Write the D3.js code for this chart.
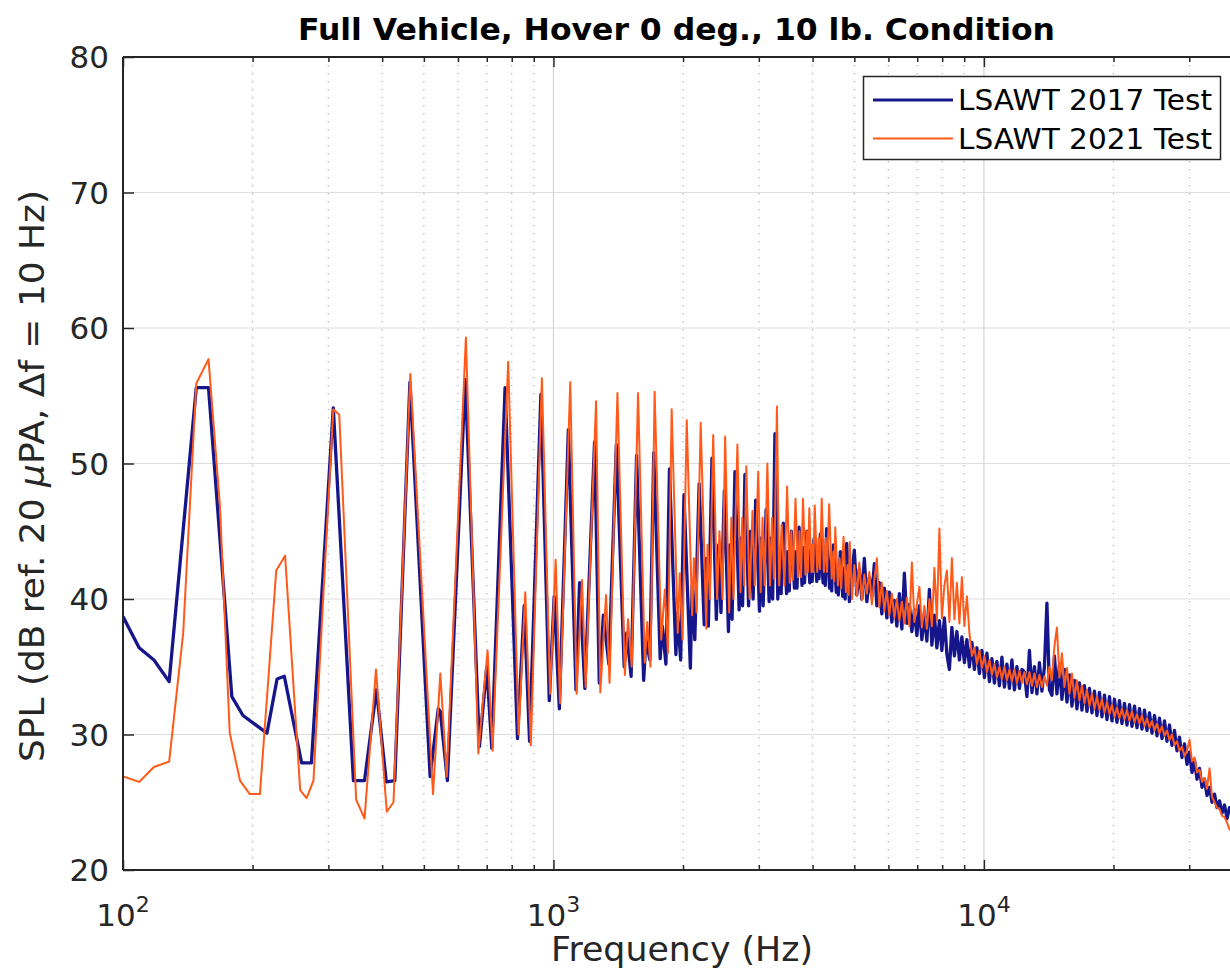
<!DOCTYPE html>
<html><head><meta charset="utf-8">
<script src="https://cdn.jsdelivr.net/npm/d3@7"></script>
<style>
body{margin:0;background:#fff}
svg{display:block}
text{font-family:"DejaVu Sans",sans-serif;fill:#262626}
</style>
</head><body>
<svg id="chart" width="1230" height="973"></svg>
<script>
// ---------- DATA ----------
const chartTitle = "Full Vehicle, Hover 0 deg., 10 lb. Condition";
const seriesNames = ["LSAWT 2017 Test", "LSAWT 2021 Test"];
const xTickExponents = [2, 3, 4];
const yTicks = [20, 30, 40, 50, 60, 70, 80];

// 2017 test: [frequency Hz, SPL dB]
const blueLow = [[100,38.7],[109,36.4],[118,35.5],[128,33.9],[148,55.6],[158,55.6],[179,32.8],[190,31.4],[216,30.1],[228,34.1],[237,34.3],[260,27.9],[274,27.9],[308,54.1],[343,26.6],[364,26.6],[388,33.3],[409,26.5],[428,26.6],[464,56.0],[517,26.9],[540,31.9],[546,31.7],[567,26.6],[624,56.2],[673,29.1],[700,35.0],[719,29.0],[772,55.6],[825,29.7],[855,39.5],[880,29.5]];
const blueHarm = [[935,55.1],[978,32.5],[1004,40.2],[1032,31.9],[1083,52.5],[1128,33.3],[1150,41.2],[1183,33.4],[1246,51.6],[1278,33.8],[1306,38.8],[1345,35.2],[1400,51.4],[1460,35.0],[1480,37.5],[1515,34.3],[1560,50.6],[1620,34.0],[1640,37.0],[1675,35.5],[1710,50.8],[1770,35.6],[1790,38.0],[1825,35.2],[1860,49.6],[1925,35.9],[1940,39.0],[1975,35.5],[2010,47.7],[2080,34.9],[2100,41.0],[2130,37.0],[2180,48.5],[2240,38.1],[2260,43.0],[2290,38.0],[2335,50.4],[2390,38.5],[2420,44.0],[2450,39.0],[2495,48.0],[2550,37.6],[2570,44.0],[2600,38.5],[2640,49.4],[2700,39.2],[2720,44.5],[2750,39.5],[2785,49.2],[2840,39.5],[2870,45.0],[2910,40.0],[2950,47.3],[3010,39.1],[3030,44.5],[3070,39.5],[3120,46.6],[3170,39.8],[3190,44.5],[3230,40.0],[3270,52.2],[3320,40.0],[3350,43.5],[3380,40.4],[3420,45.6],[3480,40.4],[3500,43.5],[3530,40.6],[3570,45.0],[3630,40.8],[3650,43.5],[3680,40.8],[3720,45.3],[3780,41.0],[3800,43.8],[3830,41.2],[3880,45.0],[3940,41.2],[3960,43.5],[3990,41.3],[4030,44.4],[4090,41.3],[4110,43.5],[4140,41.5],[4170,44.8],[4230,41.2],[4250,43.0],[4280,41.0],[4310,45.2],[4380,40.8],[4400,42.8],[4430,40.6],[4470,44.0],[4540,40.5],[4560,42.5],[4590,40.3],[4640,43.5],[4700,40.2],[4730,42.3],[4760,40.0],[4800,44.1],[4870,39.8]];

// 2021 test: [frequency Hz, SPL dB]
const orangeLow = [[100,26.9],[109,26.5],[118,27.6],[128,28.0],[138,37.5],[148,55.9],[158,57.7],[168,46.8],[177,30.1],[187,26.6],[197,25.6],[208,25.6],[227,42.1],[238,43.2],[258,25.9],[267,25.3],[277,26.6],[308,54.0],[318,53.6],[348,25.2],[364,23.8],[387,34.8],[410,24.3],[425,25.0],[465,56.6],[525,25.6],[546,34.5],[565,26.9],[626,59.3],[669,28.6],[703,36.2],[722,28.8],[785,57.5],[830,30.0],[860,40.5],[886,29.2]];
const orangeHarm = [[940,56.3],[982,33.0],[1012,42.9],[1036,32.3],[1094,56.0],[1132,33.0],[1165,41.4],[1188,33.5],[1256,54.6],[1285,33.1],[1325,40.3],[1350,33.8],[1408,55.2],[1465,34.4],[1490,38.5],[1520,35.0],[1572,55.2],[1630,35.3],[1652,38.3],[1680,35.0],[1718,55.3],[1780,37.0],[1815,40.7],[1845,36.0],[1882,54.0],[1945,37.5],[1965,41.9],[1995,37.0],[2040,53.2],[2100,38.8],[2120,43.0],[2150,39.0],[2198,53.0],[2265,37.8],[2280,44.0],[2310,40.0],[2350,52.1],[2400,40.0],[2430,45.0],[2470,40.0],[2505,52.0],[2560,39.0],[2590,46.0],[2620,40.0],[2675,51.4],[2720,40.5],[2745,46.0],[2775,41.0],[2805,49.8],[2855,40.0],[2900,46.5],[2935,41.0],[2990,49.4],[3030,40.5],[3060,46.0],[3095,41.0],[3140,50.0],[3185,41.0],[3220,46.0],[3255,41.5],[3305,54.2],[3345,41.0],[3390,45.5],[3440,41.0],[3490,48.3],[3540,41.2],[3570,45.0],[3600,41.4],[3650,47.4],[3700,41.6],[3730,45.0],[3760,41.6],[3800,47.4],[3850,41.8],[3880,45.0],[3900,42.0],[3930,46.7],[3975,42.0],[3995,44.0],[4015,42.0],[4045,46.9],[4100,42.0],[4130,44.5],[4160,42.2],[4200,47.4],[4250,42.0],[4290,44.5],[4320,42.0],[4370,47.0],[4430,41.5],[4470,43.5],[4490,41.3],[4515,45.3],[4580,41.0],[4620,43.0],[4660,40.8],[4720,44.6],[4780,40.5],[4820,42.5],[4850,40.3],[4880,44.2],[4940,40.0]];

// broadband part, shared frequency list (Hz)
const broadFreq = [5000,5067,5135,5205,5275,5346,5418,5491,5565,5640,5716,5793,5871,5950,6030,6111,6194,6277,6362,6448,6535,6623,6712,6802,6894,6987,7081,7176,7273,7371,7470,7571,7673,7776,7881,7987,8095,8204,8314,8426,8540,8655,8771,8889,9009,9130,9253,9378,9504,9632,9762,9893,10027,10162,10299,10437,10578,10720,10865,11011,11159,11310,11462,11616,11773,11931,12092,12255,12420,12587,12757,12929,13103,13279,13458,13639,13823,14009,14198,14389,14583,14779,14978,15180,15384,15592,15802,16015,16230,16449,16670,16895,17123,17353,17587,17824,18064,18307,18554,18804,19057,19314,19574,19838,20105,20376,20650,20928,21210,21496,21786,22079,22377,22678,22984,23293,23607,23925,24247,24574,24905,25240,25580,25925,26274,26628,26987,27350,27719,28092,28470,28854,29243,29636,30036,30440,30850,31266,31687,32114,32546,32985,33429,33879,34336,34798,35267,35742,36223,36711,37206,37707];
const blueBroad = [43.6,40.3,42.2,40.0,43.0,39.8,41.6,40.2,42.6,39.5,41.2,38.9,40.8,38.6,40.5,38.3,39.9,38.0,40.4,37.8,41.9,38.2,39.6,37.6,39.2,37.3,39.5,37.0,38.9,36.9,40.7,36.6,38.8,36.4,38.4,36.2,38.6,35.9,34.8,37.9,35.8,37.6,35.5,37.2,35.3,37.0,35.0,36.8,34.8,36.4,34.5,36.2,34.2,36.0,33.9,35.6,33.8,35.4,33.6,35.7,33.5,35.2,33.4,35.5,33.3,35.0,33.4,34.8,34.6,32.8,36.2,33.1,35.0,33.0,35.3,33.2,35.0,39.7,33.3,32.9,35.8,33.0,35.2,32.6,34.8,32.4,34.4,32.1,34.0,31.9,33.8,31.8,33.6,31.7,33.4,31.6,33.2,31.4,33.1,31.3,32.9,31.1,32.8,31.0,32.6,30.9,32.5,30.8,32.3,30.7,32.2,30.6,32.1,30.5,31.9,30.4,31.8,30.3,31.6,30.1,31.4,29.9,31.2,29.7,31.0,29.5,30.7,29.2,30.3,28.8,29.8,28.3,29.3,27.8,28.7,27.2,28.1,26.7,27.5,26.1,26.7,25.5,26.1,25.0,25.6,24.6,25.1,24.2,24.8,23.8,24.6,24.4];
const orangeBroad = [42.5,40.2,42.7,39.9,41.8,40.4,42.0,39.6,41.4,43.0,39.4,41.2,39.1,40.6,38.8,40.4,38.6,40.0,38.4,39.8,38.2,40.1,38.0,42.7,38.3,39.6,40.9,37.9,39.5,37.8,40.0,38.0,42.3,38.4,45.2,38.6,41.0,42.1,38.3,43.0,38.5,41.2,38.2,41.6,38.0,40.2,37.5,35.8,36.4,35.2,36.2,34.9,35.8,34.6,35.5,34.4,35.2,34.2,35.0,34.1,35.0,34.0,34.8,33.9,34.8,33.8,34.7,33.8,34.6,33.7,34.6,33.6,34.5,33.5,34.4,33.5,34.3,33.6,35.0,34.0,36.5,37.9,34.2,36.0,33.5,34.9,33.0,34.5,32.7,34.0,32.5,33.6,32.3,33.3,32.1,33.0,31.9,32.8,31.8,32.6,31.6,32.4,31.5,32.2,31.3,32.0,31.2,31.9,31.1,31.8,31.0,31.7,30.9,31.5,30.8,31.4,30.6,31.2,30.5,31.0,30.3,30.8,30.1,30.6,29.9,30.3,29.6,30.0,29.2,29.5,28.8,29.1,28.4,28.8,29.6,28.0,28.3,27.2,27.4,26.5,26.8,26.0,27.5,25.4,25.0,24.6,24.5,24.0,23.9,23.5,23.0,22.8];

// ---------- LAYOUT ----------
const M = {left: 123, right: 1230, top: 57, bottom: 870};
const blueColor = "#16168c", orangeColor = "#ff5a1a", axisColor = "#262626";

const svg = d3.select("#chart");
const x = d3.scaleLog().domain([100, 37300]).range([M.left, M.right]);
const y = d3.scaleLinear().domain([20, 80]).range([M.bottom, M.top]);

const allX = x.ticks();
const majorX = xTickExponents.map(e => Math.pow(10, e));
const minorX = allX.filter(v => !majorX.some(m => Math.abs(m - v) < 1e-6));

// grid
const grid = svg.append("g");
grid.selectAll("line.ymaj").data(yTicks.filter(v => v > 20 && v < 80)).join("line")
  .attr("x1", M.left).attr("x2", M.right).attr("y1", d => y(d)).attr("y2", d => y(d))
  .attr("stroke", "#dedede").attr("stroke-width", 1.2);
grid.selectAll("line.xmin").data(minorX).join("line")
  .attr("x1", d => x(d)).attr("x2", d => x(d)).attr("y1", M.top).attr("y2", M.bottom)
  .attr("stroke", "#b4b4b4").attr("stroke-width", 1.3).attr("stroke-dasharray", "1.3,6.7");
grid.selectAll("line.xmaj").data(majorX.filter(v => v > 100)).join("line")
  .attr("x1", d => x(d)).attr("x2", d => x(d)).attr("y1", M.top).attr("y2", M.bottom)
  .attr("stroke", "#d4d4d4").attr("stroke-width", 1.2);

// clip
svg.append("clipPath").attr("id", "clip").append("rect")
  .attr("x", M.left).attr("y", M.top).attr("width", M.right - M.left).attr("height", M.bottom - M.top);

const line = d3.line().x(d => x(d[0])).y(d => y(d[1]));
const blueData = blueLow.concat(blueHarm, broadFreq.map((f, i) => [f, blueBroad[i]]));
const orangeData = orangeLow.concat(orangeHarm, broadFreq.map((f, i) => [f, orangeBroad[i]]));

const plot = svg.append("g").attr("clip-path", "url(#clip)");
plot.append("path").datum(blueData).attr("d", line)
  .attr("fill", "none").attr("stroke", blueColor).attr("stroke-width", 3.3).attr("stroke-linejoin", "round");
plot.append("path").datum(orangeData).attr("d", line)
  .attr("fill", "none").attr("stroke", orangeColor).attr("stroke-width", 2).attr("stroke-linejoin", "round");

// axes (ticks inward)
const axB = d3.axisBottom(x).tickValues(majorX.filter(v => x(v) <= M.right)).tickSize(-10).tickFormat("");
const axBm = d3.axisBottom(x).tickValues(minorX).tickSize(-5).tickFormat("");
const axT = d3.axisTop(x).tickValues(majorX.filter(v => x(v) <= M.right)).tickSize(-10).tickFormat("");
const axTm = d3.axisTop(x).tickValues(minorX).tickSize(-5).tickFormat("");
const axL = d3.axisLeft(y).tickValues(yTicks).tickSize(-11).tickFormat("");
[[axB, M.bottom], [axBm, M.bottom], [axT, M.top], [axTm, M.top]].forEach(([a, ty]) => {
  const g = svg.append("g").attr("transform", `translate(0,${ty})`).call(a);
  g.select(".domain").remove();
  g.selectAll("line").attr("stroke", axisColor).attr("stroke-width", 1.5);
});
const gl = svg.append("g").attr("transform", `translate(${M.left},0)`).call(axL);
gl.select(".domain").remove();
gl.selectAll("line").attr("stroke", axisColor).attr("stroke-width", 1.5);

// axis box lines
svg.append("line").attr("x1", M.left).attr("x2", M.right).attr("y1", M.bottom).attr("y2", M.bottom)
  .attr("stroke", axisColor).attr("stroke-width", 2);
svg.append("line").attr("x1", M.left).attr("x2", M.right).attr("y1", M.top).attr("y2", M.top)
  .attr("stroke", axisColor).attr("stroke-width", 2);
svg.append("line").attr("x1", M.left).attr("x2", M.left).attr("y1", M.top).attr("y2", M.bottom)
  .attr("stroke", axisColor).attr("stroke-width", 2);

// y tick labels
svg.selectAll("text.ytl").data(yTicks).join("text")
  .attr("x", M.left - 14).attr("y", d => y(d)).attr("dy", "0.36em")
  .attr("text-anchor", "end").style("font-size", "31px").text(d => d);

// x tick labels 10^n
xTickExponents.forEach(e => {
  const t = svg.append("text").attr("x", x(Math.pow(10, e))).attr("y", 926)
    .attr("text-anchor", "middle").style("font-size", "31px");
  t.append("tspan").text("10");
  t.append("tspan").attr("dy", -14).style("font-size", "22px").text(e);
});

// axis labels
svg.append("text").attr("x", 682).attr("y", 961)
  .attr("text-anchor", "middle").style("font-size", "34px")
  .attr("textLength", 262).attr("lengthAdjust", "spacingAndGlyphs").text("Frequency (Hz)");
const yl = svg.append("text").attr("transform", `translate(44,476) rotate(-90)`)
  .attr("text-anchor", "middle").style("font-size", "34px")
  .attr("textLength", 572).attr("lengthAdjust", "spacingAndGlyphs");
yl.append("tspan").text("SPL (dB ref. 20 ");
yl.append("tspan").style("font-style", "italic").text("\u03BC");
yl.append("tspan").text("PA, \u0394f = 10 Hz)");

// title
svg.append("text").attr("x", 676.5).attr("y", 40)
  .attr("text-anchor", "middle").style("font-size", "31px").style("font-weight", "bold")
  .attr("textLength", 757).attr("lengthAdjust", "spacingAndGlyphs")
  .style("fill", "#000").text(chartTitle);

// legend
const lg = svg.append("g");
lg.append("rect").attr("x", 863.5).attr("y", 76.5).attr("width", 357).attr("height", 83)
  .attr("fill", "#fff").attr("stroke", axisColor).attr("stroke-width", 1.5);
const legendItems = [{name: seriesNames[0], color: blueColor, w: 3}, {name: seriesNames[1], color: orangeColor, w: 2}];
legendItems.forEach((d, i) => {
  const yy = 100 + i * 38.5;
  lg.append("line").attr("x1", 873).attr("x2", 953).attr("y1", yy).attr("y2", yy)
    .attr("stroke", d.color).attr("stroke-width", d.w);
  lg.append("text").attr("x", 958).attr("y", yy).attr("dy", "0.36em")
    .style("font-size", "28.5px").style("fill", "#000")
    .attr("textLength", 254).attr("lengthAdjust", "spacingAndGlyphs").text(d.name);
});
</script>
</body></html>
